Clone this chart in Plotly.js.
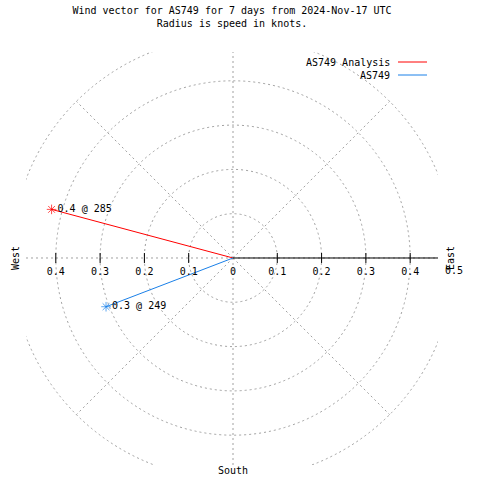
<!DOCTYPE html>
<html>
<head>
<meta charset="utf-8">
<script src="https://cdn.plot.ly/plotly-3.0.1.min.js"></script>
<style>html,body{margin:0;padding:0;background:#fff;}#chart{width:480px;height:480px;}</style>
</head>
<body>
<div id="chart"></div>
<script>
// ---- data ----
const seriesNames = ['AS749 Analysis', 'AS749'];
const speeds = [0.424, 0.307];          // knots
const directions = [285, 249];          // degrees (compass)
const seriesColors = ['#ff0000', '#1a80e8'];
const tickVals = [-0.4, -0.3, -0.2, -0.1, 0, 0.1, 0.2, 0.3, 0.4];
const tickText = ['0.4', '0.3', '0.2', '0.1', '0', '0.1', '0.2', '0.3', '0.4'];
const ringRadii = [0.1, 0.2, 0.3, 0.4, 0.5];
const spokeAngles = [0, 45, 90, 135, 180, 225, 270, 315];
const titleLines = ['Wind vector for AS749 for 7 days from 2024-Nov-17 UTC', 'Radius is speed in knots.'];

// ---- layout geometry ----
const W = 480, H = 480;
const M = {l: 26, r: 42, t: 52, b: 15};
const xRange = [-0.4673, 0.4628];
const yRange = [-0.4673, 0.465];
const pw = W - M.l - M.r, ph = H - M.t - M.b;
const pxX = px => (px - M.l) / pw;          // pixel -> paper
const pxY = py => (H - M.b - py) / ph;
const dataX = v => (v - xRange[0]) / (xRange[1] - xRange[0]);
const font = 'DejaVu Sans Mono, Liberation Mono, monospace';
const grid = {color: '#a0a0a0', width: 1, dash: '2px,3px'};
const spokeLen = ringRadii[ringRadii.length - 1];

const rad = d => d * Math.PI / 180;
const traces = speeds.map((s, i) => ({
  type: 'scatter',
  mode: 'lines+markers+text',
  x: [0, s * Math.sin(rad(directions[i]))],
  y: [0, s * Math.cos(rad(directions[i]))],
  line: {color: seriesColors[i], width: 1},
  marker: {symbol: 'asterisk-open', size: [0, 8], line: {color: seriesColors[i], width: 1}, color: seriesColors[i]},
  text: ['', s.toFixed(1) + ' @ ' + directions[i]],
  textposition: 'middle right',
  textfont: {family: font, size: 10, color: '#000'},
  name: seriesNames[i],
  cliponaxis: false,
  hoverinfo: 'skip'
}));

const shapes = [];
ringRadii.forEach(r => shapes.push({type: 'circle', xref: 'x', yref: 'y', x0: -r, y0: -r, x1: r, y1: r, line: grid, layer: 'below'}));
spokeAngles.forEach(a => shapes.push({type: 'line', xref: 'x', yref: 'y', x0: 0, y0: 0,
  x1: spokeLen * Math.sin(rad(a)), y1: spokeLen * Math.cos(rad(a)), line: grid, layer: 'below'}));
// polar axis (black, east side) and ticks
shapes.push({type: 'line', xref: 'x', yref: 'y', x0: 0, y0: 0, x1: xRange[1], y1: 0, line: {color: '#000', width: 1}});
const tl = 5 / 443;
tickVals.filter(v => v !== 0).forEach(v => shapes.push({type: 'line', xref: 'x', yref: 'y', x0: v, x1: v, y0: -tl, y1: tl, line: {color: '#000', width: 1}}));
// legend samples
seriesColors.forEach((c, i) => shapes.push({type: 'line', xref: 'paper', yref: 'paper',
  x0: pxX(398), x1: pxX(427), y0: pxY(62 + 13 * i), y1: pxY(62 + 13 * i), line: {color: c, width: 1}}));

const ann = [];
seriesNames.forEach((n, i) => ann.push({xref: 'paper', yref: 'paper', x: pxX(392), y: pxY(62.5 + 13 * i),
  xanchor: 'right', yanchor: 'middle', text: n, showarrow: false, font: {family: font, size: 10, color: '#000'}}));
ann.push({xref: 'paper', yref: 'paper', x: pxX(15), y: pxY(258), text: 'West', textangle: -90, showarrow: false,
  xanchor: 'center', yanchor: 'middle', font: {family: font, size: 10, color: '#000'}});
ann.push({xref: 'paper', yref: 'paper', x: pxX(450), y: pxY(258), text: 'East', textangle: -90, showarrow: false,
  xanchor: 'center', yanchor: 'middle', font: {family: font, size: 10, color: '#000'}});
ann.push({xref: 'paper', yref: 'paper', x: pxX(233), y: pxY(471), text: 'South', showarrow: false,
  xanchor: 'center', yanchor: 'middle', font: {family: font, size: 10, color: '#000'}});
ann.push({xref: 'paper', yref: 'paper', x: dataX(0.5), y: pxY(270), text: '0.5', showarrow: false,
  xanchor: 'center', yanchor: 'middle', font: {family: font, size: 10, color: '#000'}});

const layout = {
  width: W, height: H, margin: M,
  paper_bgcolor: '#fff', plot_bgcolor: '#fff',
  showlegend: false,
  title: {text: titleLines.join('<br>'), font: {family: font, size: 10, color: '#000'},
    xref: 'container', yref: 'container', x: 232 / W, y: 1 - 14 / H, xanchor: 'center', yanchor: 'top'},
  xaxis: {range: xRange, showgrid: false, zeroline: false, showline: false,
    tickmode: 'array', tickvals: tickVals, ticktext: tickText,
    ticks: 'outside', ticklen: 4, tickcolor: 'rgba(0,0,0,0)',
    anchor: 'free', position: (0 - yRange[0]) / (yRange[1] - yRange[0]),
    tickfont: {family: font, size: 10, color: '#000'}, fixedrange: true},
  yaxis: {range: yRange, visible: false, showgrid: false, zeroline: false, fixedrange: true},
  shapes: shapes,
  annotations: ann
};

Plotly.newPlot('chart', traces, layout, {staticPlot: true});
</script>
</body>
</html>
